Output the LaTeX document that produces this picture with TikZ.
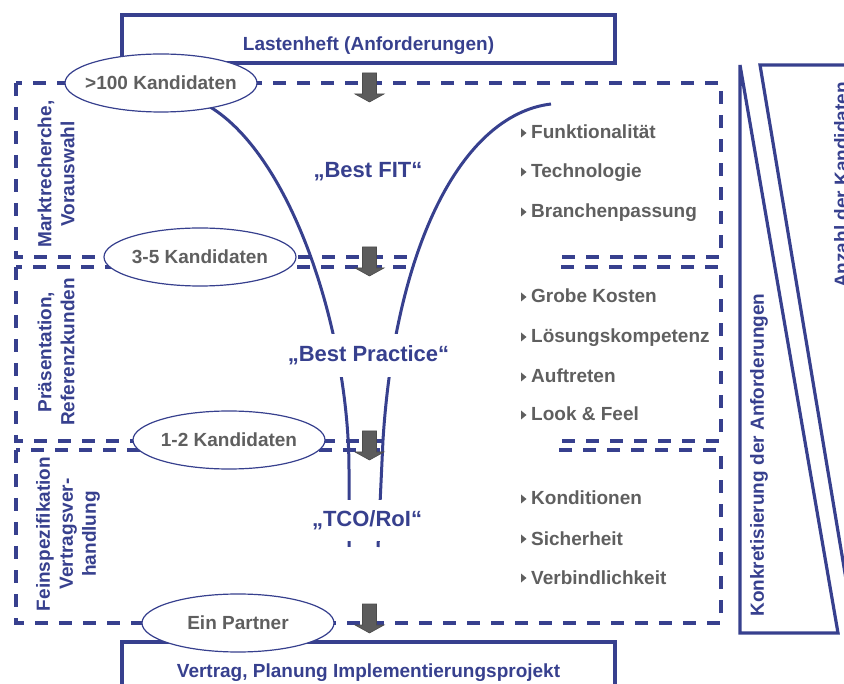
\documentclass[tikz,border=0pt]{standalone}
\usepackage{fontspec}
\setmainfont{Liberation Sans}
\usetikzlibrary{shapes.geometric}

\definecolor{fitblue}{RGB}{55,64,142}
\definecolor{txtgray}{RGB}{95,95,95}
\definecolor{arrowgray}{RGB}{92,92,92}

\newcommand{\cand}[1]{\makebox[0pt]{#1}}

\begin{document}
\begin{tikzpicture}[x=1pt,y=-1pt,
	phase/.style={draw=fitblue,line width=3.5pt,dash pattern=on 13pt off 11pt},
	frame/.style={draw=fitblue,line width=3.5pt},
	funnel/.style={draw=fitblue,line width=3pt},
	count/.style={ellipse,draw=fitblue,line width=1.2pt,fill=white,
		minimum width=192pt,minimum height=58pt,inner sep=0pt,
		text=txtgray,font=\fontsize{19}{22}\selectfont\bfseries},
	item/.style={anchor=base west,inner sep=0pt,text=txtgray,
		font=\fontsize{19}{22}\selectfont\bfseries},
	stage/.style={anchor=base,text=fitblue,font=\fontsize{22}{26}\selectfont\bfseries},
	title/.style={anchor=base,text=fitblue,font=\fontsize{19}{22}\selectfont\bfseries},
	phaselabel/.style={rotate=90,align=center,text=fitblue,
		font=\fontsize{19}{23}\selectfont\bfseries},
	blockarrow/.style={fill=arrowgray,draw=black!70,line width=0.6pt}]
	\useasboundingbox (0,0) rectangle (844,684);
	\clip (0,0) rectangle (844,684);
	
	% phases
	\draw[phase] (16,83) rectangle (721,257);
	\draw[phase] (16,267) rectangle (721,441);
	\draw[phase] (16,450) rectangle (721,623);
	
	\draw[frame] (122,15) rectangle (615,63);
	\draw[frame] (122,642) rectangle (615,700);
	\node[title] (lastenheft) at (368.5,51) {Lastenheft (Anforderungen)};
	\node[title] (vertrag) at (368.5,677) {Vertrag, Planung Implementierungsprojekt};
	
	% right side
	\draw[funnel,line width=3.2pt] (740,65) -- (740,633) -- (838,633) -- cycle;
	\draw[funnel,line width=3.2pt] (860,65) -- (760,65) -- (855,633);
	\node[phaselabel] (konkret) at (759,455) {Konkretisierung der Anforderungen};
	\node[phaselabel] (anzahl) at (841,185) {Anzahl der Kandidaten};
	
	% funnel
	\fill[white] (552,104) -- (551,104) .. controls (460,115) and (395,250) .. (383,440)
		-- (378,547) -- (552,547) -- cycle;
	\draw[funnel] (205,104) .. controls (290,150) and (349,330) .. (349,470) -- (349,547);
	\draw[funnel] (551,104) .. controls (460,115) and (395,250) .. (383,440) -- (378,547);
	
	\node[stage] (fit) at (368,178) {„Best FIT“};
	\node[stage,fill=white,inner ysep=12pt] (practice) at (368.5,362) {„Best Practice“};
	\node[stage,fill=white,inner ysep=11pt] (tco) at (367,527) {„TCO/RoI“};
	
	\node[phaselabel] (markt) at (56,174) {Marktrecherche,\\Vorauswahl};
	\node[phaselabel] (praes) at (56,352) {Präsentation,\\Referenzkunden};
	\node[phaselabel] (fein) at (68,534) {Feinspezifikation\\Vertragsver-\\handlung};
	
	\foreach \y/\txt [count=\i] in {139/Funktionalität,178/Technologie,218/Branchenpassung,
		303/Grobe Kosten,343/Lösungskompetenz,383/Auftreten,421/Look \& Feel,
		505/Konditionen,545/Sicherheit,584/Verbindlichkeit}{
		\fill[txtgray] (521,\y-10.5) -- (526.5,\y-6) -- (521,\y-1.5) -- cycle;
		\node[item] (item\i) at (531,\y) {\txt};
	}
	
	% candidates
	\node[count] (k100) at (161,83) {\cand{>100 Kandidaten}};
	\node[count] (k35) at (200,257) {\cand{3-5 Kandidaten}};
	\node[count] (k12) at (229,440) {\cand{1-2 Kandidaten}};
	\node[count] (partner) at (238,623) {\cand{Ein Partner}};
	
	\foreach \t in {73,247,431,604}
		\draw[blockarrow] (362.5,\t) -- (376.5,\t) -- (376.5,\t+21) -- (384,\t+21)
			-- (369.5,\t+29) -- (355,\t+21) -- (362.5,\t+21) -- cycle;
\end{tikzpicture}
\end{document}
